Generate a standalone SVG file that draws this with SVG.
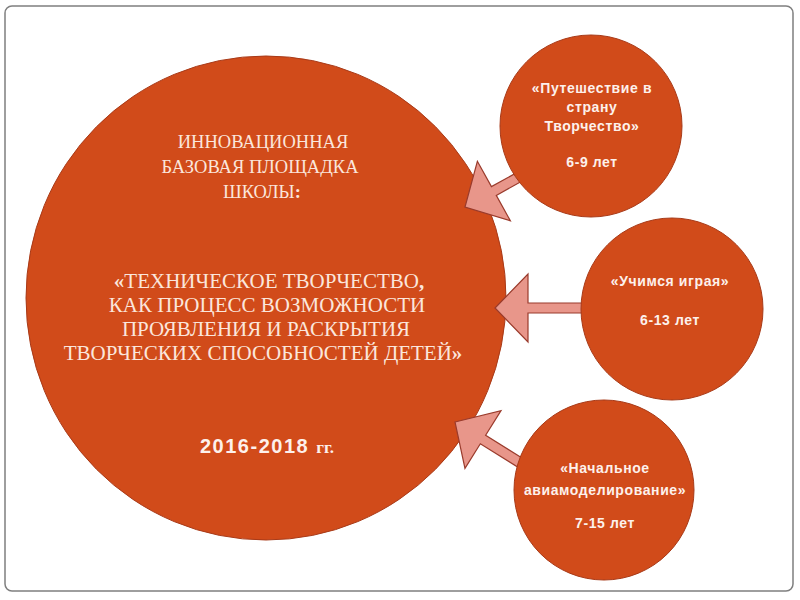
<svg xmlns="http://www.w3.org/2000/svg" width="800" height="600" viewBox="0 0 800 600">
<defs>
<style>
.node{fill:#D14B1A;stroke:#A83A18;stroke-width:1}
.arrow{fill:#E8968A;stroke:#9A3B2C;stroke-width:1.2}
.serif{font-family:"Liberation Serif","DejaVu Serif",serif;fill:#FBE6DC;text-anchor:middle}
.sans{font-family:"Liberation Sans",Arial,sans-serif;font-weight:bold;fill:#FDF1EC;text-anchor:middle;font-size:14px;letter-spacing:0.6px}
</style>
<path id="arr" d="M0,0 L33,-34 L33,-5 L95,-5 L95,5 L33,5 L33,34 Z"/>
</defs>
<rect x="5" y="6" width="788" height="585" rx="7" ry="7" fill="#FFFFFF" stroke="#7F7F7F" stroke-width="1.5"/>
<g id="main">
<ellipse class="node" cx="266" cy="298" rx="240" ry="242"/>
<text class="serif" font-size="18.5"><tspan x="263" y="148">ИННОВАЦИОННАЯ</tspan><tspan x="260" y="173">БАЗОВАЯ ПЛОЩАДКА</tspan><tspan x="262" y="198">ШКОЛЫ<tspan font-weight="bold">:</tspan></tspan></text>
<text class="serif" font-size="21"><tspan x="269" y="288"><tspan font-weight="bold">«</tspan>ТЕХНИЧЕСКОЕ ТВОРЧЕСТВО<tspan font-weight="bold">,</tspan></tspan><tspan x="267" y="312">КАК ПРОЦЕСС ВОЗМОЖНОСТИ</tspan><tspan x="266" y="336">ПРОЯВЛЕНИЯ И РАСКРЫТИЯ</tspan><tspan x="263" y="360">ТВОРЧЕСКИХ СПОСОБНОСТЕЙ ДЕТЕЙ<tspan font-weight="bold">»</tspan></tspan></text>
<text x="267" y="453" text-anchor="middle" fill="#FDF1EC"><tspan font-family="'Liberation Sans',Arial,sans-serif" font-weight="bold" font-size="20" letter-spacing="1.5">2016-2018 </tspan><tspan font-family="'Liberation Serif',serif" font-weight="bold" font-size="17">гг.</tspan></text>
</g>
<g id="connectors">
<use href="#arr" class="arrow" transform="translate(465,207) rotate(-29)"/>
<use href="#arr" class="arrow" transform="translate(495,308)"/>
<use href="#arr" class="arrow" transform="translate(455,422) rotate(32)"/>
</g>
<g id="node1">
<circle class="node" cx="591" cy="126" r="91"/>
<text class="sans"><tspan x="592" y="93">«Путешествие в</tspan><tspan x="592" y="112">страну</tspan><tspan x="592" y="131">Творчество»</tspan><tspan x="592" y="167">6-9 лет</tspan></text>
</g>
<g id="node2">
<circle class="node" cx="672" cy="309" r="91"/>
<text class="sans"><tspan x="670" y="286">«Учимся играя»</tspan><tspan x="670" y="325">6-13 лет</tspan></text>
</g>
<g id="node3">
<circle class="node" cx="604" cy="490" r="90"/>
<text class="sans"><tspan x="605" y="473">«Начальное</tspan><tspan x="605" y="495">авиамоделирование»</tspan><tspan x="605" y="528">7-15 лет</tspan></text>
</g>
</svg>
